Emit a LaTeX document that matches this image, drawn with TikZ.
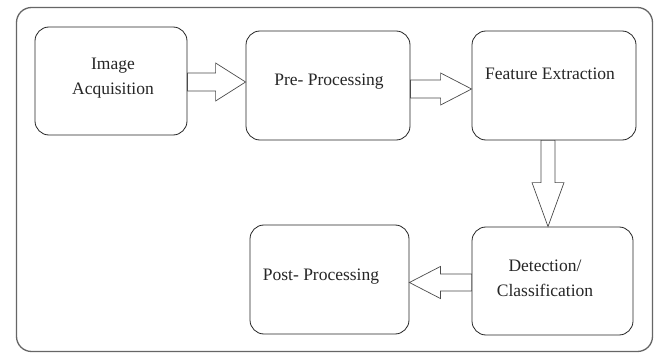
\documentclass[tikz,border=0pt]{standalone}
\usepackage{fontspec}
\setmainfont{Liberation Serif}
\usetikzlibrary{calc}
\begin{document}
\begin{tikzpicture}[x=1pt,y=-1pt,
  stagebox/.style={draw=black!85,line width=0.8pt,rounded corners=14pt,inner sep=0pt,rectangle},
  stagetext/.style={align=center,inner sep=0pt,font=\fontsize{17.5}{25}\selectfont,text=black!85},
  blockarrow/.style={draw=black!70,line width=0.7pt,fill=white,line join=miter}]
\useasboundingbox (0,0) rectangle (657,353);
\fill[white] (0,0) rectangle (657,353);
% outer frame
\draw[black!60,line width=1.3pt,rounded corners=15pt] (16.5,7.5) rectangle (652.5,351.5);
% boxes
\node[stagebox,minimum width=152pt,minimum height=108pt] (b1) at (111,81) {};
\node[stagebox,minimum width=164pt,minimum height=109pt] (b2) at (328,85.5) {};
\node[stagebox,minimum width=164pt,minimum height=109pt] (b3) at (554,85.5) {};
\node[stagebox,minimum width=161pt,minimum height=108pt] (b4) at (552.5,281) {};
\node[stagebox,minimum width=159pt,minimum height=109pt] (b5) at (329.5,279.5) {};
% texts
\node[stagetext] (t1) at (113,78) {Image\\Acquisition};
\node[stagetext] (t2) at (329,82) {Pre- Processing};
\node[stagetext] (t3) at (550,74) {Feature Extraction};
\node[stagetext] (t4) at (545,278) {Detection/\\Classification};
\node[stagetext] (t5) at (321,277) {Post- Processing};
% arrow 1
\coordinate (s1) at ($(b1.east)+(0,1)$);
\coordinate (e1) at (b2.west |- s1);
\draw[blockarrow] ($(s1)+(0,-9)$) -- ($(e1)+(-30,-9)$) -- ($(e1)+(-30,-19)$) -- (e1)
  -- ($(e1)+(-30,19)$) -- ($(e1)+(-30,9)$) -- ($(s1)+(0,9)$) -- cycle;
% arrow 2
\coordinate (s2) at ($(b2.east)+(0,3.5)$);
\coordinate (e2) at (b3.west |- s2);
\draw[blockarrow] ($(s2)+(0,-9)$) -- ($(e2)+(-31,-9)$) -- ($(e2)+(-31,-16)$) -- (e2)
  -- ($(e2)+(-31,16)$) -- ($(e2)+(-31,9)$) -- ($(s2)+(0,9)$) -- cycle;
% arrow 3
\coordinate (s3) at ($(b3.south)+(-6,0)$);
\coordinate (e3) at (s3 |- b4.north);
\draw[blockarrow] ($(s3)+(-7,0)$) -- ($(e3)+(-7,-44)$) -- ($(e3)+(-16,-44)$) -- (e3)
  -- ($(e3)+(16,-44)$) -- ($(e3)+(7,-44)$) -- ($(s3)+(7,0)$) -- cycle;
% arrow 4
\coordinate (s4) at ($(b4.west)+(0,1.5)$);
\coordinate (e4) at (b5.east |- s4);
\draw[blockarrow] ($(s4)+(0,-8.5)$) -- ($(e4)+(31,-8.5)$) -- ($(e4)+(31,-16)$) -- (e4)
  -- ($(e4)+(31,16)$) -- ($(e4)+(31,8.5)$) -- ($(s4)+(0,8.5)$) -- cycle;
\end{tikzpicture}
\end{document}
